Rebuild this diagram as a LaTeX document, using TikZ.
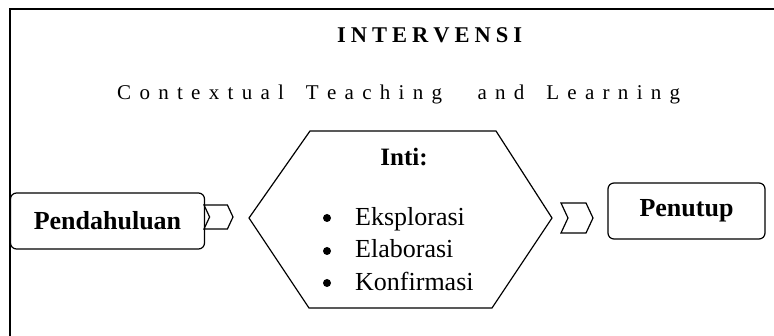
\documentclass[tikz,border=0pt]{standalone}
\usepackage{fontspec}
\setmainfont{Liberation Serif}
\usetikzlibrary{shapes.symbols}
\makeatletter
\newcommand\spreadtext[2]{\@tfor\ltr:=#2\do{\ltr\kern#1}\unkern}
\makeatother
\tikzset{
  frameline/.style={line width=2pt},
  shapeline/.style={line width=1.2pt},
  labelbox/.style={shapeline, draw, rounded corners=6pt, font=\fontsize{26}{30}\selectfont\bfseries, inner sep=0pt},
  chevron/.style={shapeline, draw, shape=signal, signal to=east, signal from=west, signal pointer angle=130, inner sep=0pt},
  listtext/.style={font=\fontsize{26}{30}\selectfont, anchor=base west, inner sep=0pt},
  bulletdot/.style={circle, fill=black, inner sep=0pt, minimum size=8pt},
}
\begin{document}
\begin{tikzpicture}[x=1pt,y=-1pt]
\useasboundingbox (0,0) rectangle (774,336);
\coordinate (fb) at (10,337);
\coordinate (fc) at (10,9);
\coordinate (fr) at (775,9);
\draw[frameline] (fb) -- (fc) -- (fr);
\node[font=\fontsize{22.5}{26}\selectfont\bfseries, anchor=base west, inner sep=0pt] (title) at (337,43) {\spreadtext{5pt}{INTERVENSI}};
\node[font=\fontsize{21}{25}\selectfont, anchor=base west, inner sep=0pt] (ctl) at (117,100) {\spreadtext{8.3pt}{Contextual~Teaching~~and~Learning}};
\node[labelbox, minimum width=194pt, minimum height=56pt] (pend) at (107.5,221) {Pendahuluan};
\node[labelbox, minimum width=157pt, minimum height=56pt] (pen) at (686.5,211) {Penutup};
\node[chevron, minimum width=29pt, minimum height=24pt] (ch1) at (218.5,217) {};
\node[chevron, minimum width=32pt, minimum height=30pt] (ch2) at (577,218) {};
\coordinate (h1) at (249,218);
\coordinate (h2) at (310,131);
\coordinate (h3) at (496,131);
\coordinate (h4) at (552,218);
\coordinate (h5) at (492,308);
\coordinate (h6) at (309,308);
\draw[shapeline] (h1) -- (h2) -- (h3) -- (h4) -- (h5) -- (h6) -- cycle;
\node[font=\fontsize{25}{29}\selectfont\bfseries, anchor=base] (inti) at (404,166) {Inti:};
\node[listtext] (l1) at (355,226) {Eksplorasi};
\node[listtext] (l2) at (355,258) {Elaborasi};
\node[listtext] (l3) at (355,291) {Konfirmasi};
\node[bulletdot] (b1) at (327,218) {};
\node[bulletdot] (b2) at (327,251) {};
\node[bulletdot] (b3) at (327,283) {};
\end{tikzpicture}
\end{document}
